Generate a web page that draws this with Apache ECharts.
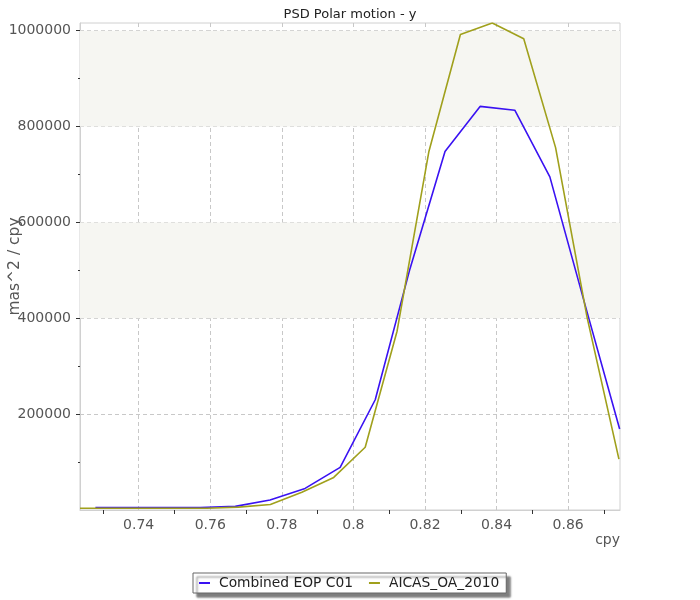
<!DOCTYPE html>
<html>
<head>
<meta charset="utf-8">
<script src="https://cdn.jsdelivr.net/npm/echarts@6/dist/echarts.min.js"></script>
<style>html,body{margin:0;padding:0;background:#fff}#c{width:700px;height:600px}</style>
</head>
<body>
<div id="c"></div>
<script>
const titleText = 'PSD Polar motion - y';
const xName = 'cpy';
const yName = 'mas^2 / cpy';
const seriesNames = ['Combined EOP C01', 'AICAS_OA_2010'];

const c01Freq = [0.7279, 0.7377, 0.7474, 0.7572, 0.7670, 0.7767, 0.7865, 0.7963,
                 0.8061, 0.8158, 0.8256, 0.8354, 0.8451, 0.8549, 0.8647, 0.8744];
const c01Psd  = [5000, 5000, 5000, 5200, 7500, 21000, 45000, 89000,
                 230000, 503000, 748000, 842000, 834000, 695000, 429000, 169000];

const aicasFreq = [0.7236, 0.7325, 0.7413, 0.7502, 0.7590, 0.7679, 0.7768, 0.7856, 0.7945,
                   0.8033, 0.8122, 0.8211, 0.8299, 0.8388, 0.8476, 0.8565, 0.8653, 0.8742];
const aicasPsd  = [3500, 3500, 3500, 3500, 3800, 6000, 11500, 37000, 68000,
                   131000, 373000, 748000, 992000, 1016000, 983000, 756000, 402000, 106000];

const xMin = 0.7236, xMax = 0.8745;
const yMin = 0, yMax = 1016000;
const xLabelValues = [0.74, 0.76, 0.78, 0.80, 0.82, 0.84, 0.86];
const xMinorTicks = [0.73, 0.75, 0.77, 0.79, 0.81, 0.83, 0.85, 0.87];
const yLabelValues = [200000, 400000, 600000, 800000, 1000000];
const yMinorTicks = [100000, 300000, 500000, 700000, 900000];
const bands = [[400000, 600000], [800000, 1000000]];

const colors = ['#3a12f2', '#a0a01c'];
const font = 'DejaVu Sans';

const chart = echarts.init(document.getElementById('c'), null, {renderer: 'canvas'});
chart.setOption({
  animation: false,
  color: colors,
  title: {
    text: titleText, left: 'center', top: 3,
    textStyle: {fontFamily: font, fontSize: 13, fontWeight: 'normal', color: '#222'}
  },
  legend: {
    left: 193, top: 573,
    padding: [3, 7, 3, 6],
    itemWidth: 11, itemHeight: 2, itemGap: 16,
    icon: 'rect',
    backgroundColor: '#fff', borderColor: '#666', borderWidth: 1,
    shadowColor: 'rgba(0,0,0,0.5)', shadowBlur: 2, shadowOffsetX: 4, shadowOffsetY: 4,
    textStyle: {fontFamily: font, fontSize: 13.8, color: '#222', padding: [0, 0, 0, 4]},
    data: seriesNames
  },
  grid: {
    left: 80, right: 80, top: 23, bottom: 90,
    outerBoundsMode: 'none', containLabel: false,
    show: true, borderColor: '#d0d0d0', borderWidth: 1, backgroundColor: '#fff'
  },
  xAxis: [{
    type: 'value', min: xMin, max: xMax, position: 'bottom',
    name: xName, nameLocation: 'end', nameGap: 0,
    nameTextStyle: {fontFamily: font, fontSize: 14, color: '#555', align: 'right', verticalAlign: 'top', padding: [23, 0, 0, 0]},
    axisLine: {show: true, lineStyle: {color: '#d0d0d0'}},
    axisTick: {show: false, customValues: xLabelValues},
    axisLabel: {customValues: xLabelValues, fontFamily: font, fontSize: 14, color: '#555', margin: 8,
                formatter: v => String(Math.round(v * 100) / 100)},
    splitLine: {show: true, lineStyle: {color: '#c8c8c8', type: [4, 3], width: 1}}
  }, {
    type: 'value', min: xMin, max: xMax, position: 'bottom',
    axisLine: {show: false},
    axisTick: {show: true, customValues: xMinorTicks, length: 4, lineStyle: {color: '#333'}},
    axisLabel: {show: false},
    splitLine: {show: false}
  }],
  yAxis: [{
    type: 'value', min: yMin, max: yMax, position: 'left',
    name: yName, nameLocation: 'middle', nameGap: 57, nameMoveOverlap: false,
    nameTextStyle: {fontFamily: font, fontSize: 15.5, color: '#555'},
    axisLine: {show: true, lineStyle: {color: '#d0d0d0'}},
    axisTick: {show: true, customValues: yLabelValues, length: 4, lineStyle: {color: '#333'}},
    axisLabel: {customValues: yLabelValues, fontFamily: font, fontSize: 14, color: '#555', margin: 9,
                formatter: v => String(v)},
    splitLine: {show: true, lineStyle: {color: '#c8c8c8', type: [4, 3], width: 1}}
  }, {
    type: 'value', min: yMin, max: yMax, position: 'left',
    axisLine: {show: false},
    axisTick: {show: true, customValues: yMinorTicks, length: 2, lineStyle: {color: '#333'}},
    axisLabel: {show: false},
    splitLine: {show: false}
  }],
  series: [{
    name: seriesNames[0], type: 'line', xAxisIndex: 0, yAxisIndex: 0,
    data: c01Freq.map((f, i) => [f, c01Psd[i]]),
    showSymbol: false, symbol: 'none', z: 3,
    lineStyle: {width: 1.6, color: colors[0]},
    markArea: {
      silent: true,
      itemStyle: {color: '#f6f6f2'},
      data: bands.map(b => [{yAxis: b[0]}, {yAxis: b[1]}])
    }
  }, {
    name: seriesNames[1], type: 'line', xAxisIndex: 0, yAxisIndex: 0,
    data: aicasFreq.map((f, i) => [f, aicasPsd[i]]),
    showSymbol: false, symbol: 'none', z: 4,
    lineStyle: {width: 1.6, color: colors[1]}
  }]
});
</script>
</body>
</html>
